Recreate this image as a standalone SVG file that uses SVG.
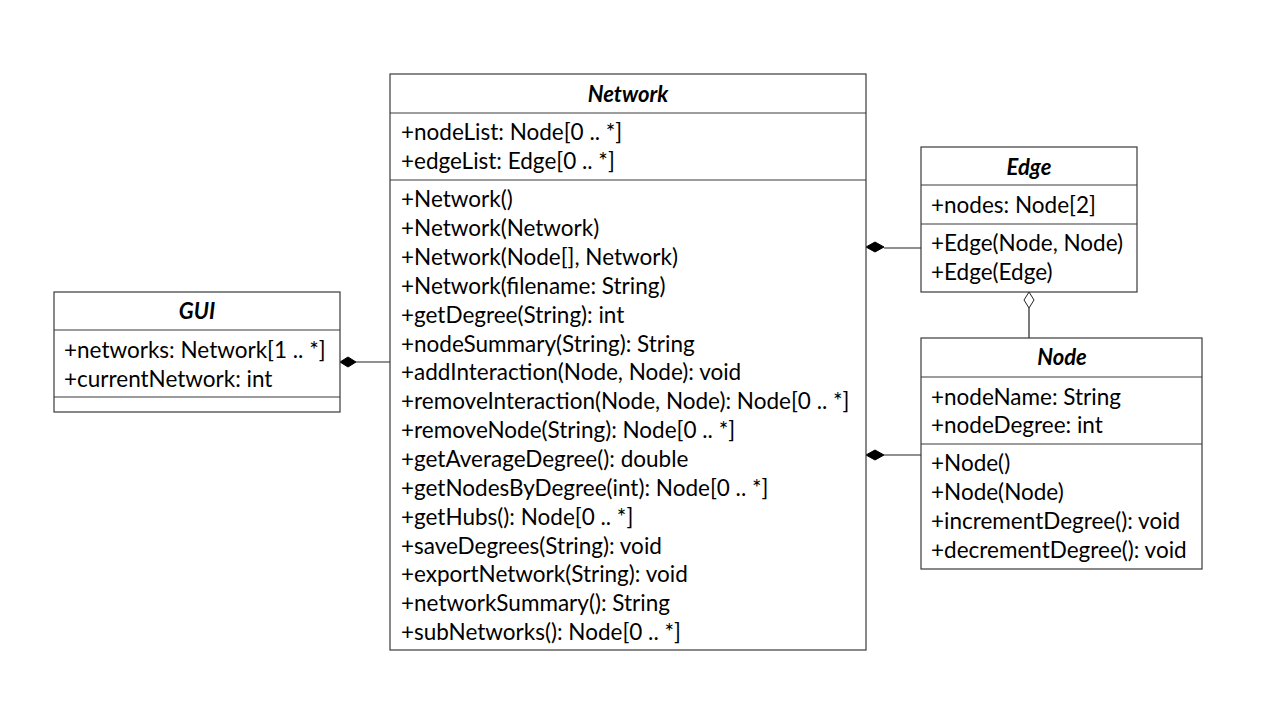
<svg xmlns="http://www.w3.org/2000/svg" width="1280" height="720" viewBox="0 0 1280 720">
  <style>
    .box { fill: #ffffff; stroke: #3a3a3a; stroke-width: 1.2; }
    .div { stroke: #3a3a3a; stroke-width: 1.2; }
    .title { font-family: Lato, "Liberation Sans", sans-serif; font-size: 22px; font-weight: bold; font-style: italic; fill: #000; text-anchor: middle; dominant-baseline: central; }
    .txt { font-family: Lato, "Liberation Sans", sans-serif; font-size: 22.5px; fill: #000; dominant-baseline: central; }
    .link { stroke: #222; stroke-width: 1.2; fill: none; }
    .comp { fill: #000; stroke: #000; stroke-width: 1; }
    .aggr { fill: #fff; stroke: #222; stroke-width: 1; }
  </style>
  <rect width="1280" height="720" fill="#ffffff"/>

  <!-- connectors -->
  <g id="connectors">
    <!-- GUI composes Network -->
    <line class="link" x1="356" y1="362" x2="390" y2="362"/>
    <polygon class="comp" points="340,362 348,357 356,362 348,367"/>
    <!-- Network composes Edge -->
    <line class="link" x1="884" y1="248" x2="921" y2="248"/>
    <polygon class="comp" points="866,247 875,242 884,247 875,252"/>
    <!-- Network composes Node -->
    <line class="link" x1="884" y1="455" x2="921" y2="455"/>
    <polygon class="comp" points="866,455 875,450 884,455 875,460"/>
    <!-- Edge aggregates Node -->
    <line class="link" x1="1029" y1="308" x2="1029" y2="338"/>
    <polygon class="aggr" points="1029,292 1034,300 1029,308 1024,300"/>
  </g>

  <!-- GUI class -->
  <g id="gui">
    <rect class="box" x="54" y="292" width="286" height="120"/>
    <line class="div" x1="54" y1="330" x2="340" y2="330"/>
    <line class="div" x1="54" y1="397" x2="340" y2="397"/>
    <text class="title" x="197" y="310">GUI</text>
    <text class="txt" x="64" y="349">+networks: Network[1 .. *]</text>
    <text class="txt" x="64" y="378">+currentNetwork: int</text>
  </g>

  <!-- Network class -->
  <g id="network">
    <rect class="box" x="390" y="74" width="476" height="576"/>
    <line class="div" x1="390" y1="113" x2="866" y2="113"/>
    <line class="div" x1="390" y1="180" x2="866" y2="180"/>
    <text class="title" x="628" y="93">Network</text>
    <text class="txt" x="401" y="131">+nodeList: Node[0 .. *]</text>
    <text class="txt" x="401" y="160">+edgeList: Edge[0 .. *]</text>
    <text class="txt" x="401" y="198">+Network()</text>
    <text class="txt" x="401" y="227">+Network(Network)</text>
    <text class="txt" x="401" y="256">+Network(Node[], Network)</text>
    <text class="txt" x="401" y="285">+Network(filename: String)</text>
    <text class="txt" x="401" y="314">+getDegree(String):  int</text>
    <text class="txt" x="401" y="343">+nodeSummary(String): String</text>
    <text class="txt" x="401" y="371">+addInteraction(Node, Node): void</text>
    <text class="txt" x="401" y="400">+removeInteraction(Node, Node): Node[0 .. *]</text>
    <text class="txt" x="401" y="429">+removeNode(String): Node[0 .. *]</text>
    <text class="txt" x="401" y="458">+getAverageDegree(): double</text>
    <text class="txt" x="401" y="487">+getNodesByDegree(int): Node[0 .. *]</text>
    <text class="txt" x="401" y="516">+getHubs(): Node[0 .. *]</text>
    <text class="txt" x="401" y="545">+saveDegrees(String): void</text>
    <text class="txt" x="401" y="573">+exportNetwork(String): void</text>
    <text class="txt" x="401" y="602">+networkSummary(): String</text>
    <text class="txt" x="401" y="631">+subNetworks(): Node[0 .. *]</text>
  </g>

  <!-- Edge class -->
  <g id="edge">
    <rect class="box" x="921" y="147" width="216" height="145"/>
    <line class="div" x1="921" y1="185" x2="1137" y2="185"/>
    <line class="div" x1="921" y1="224" x2="1137" y2="224"/>
    <text class="title" x="1029" y="166">Edge</text>
    <text class="txt" x="931" y="204">+nodes: Node[2]</text>
    <text class="txt" x="931" y="242">+Edge(Node, Node)</text>
    <text class="txt" x="931" y="271">+Edge(Edge)</text>
  </g>

  <!-- Node class -->
  <g id="node">
    <rect class="box" x="921" y="338" width="281" height="231"/>
    <line class="div" x1="921" y1="377" x2="1202" y2="377"/>
    <line class="div" x1="921" y1="444" x2="1202" y2="444"/>
    <text class="title" x="1062" y="356">Node</text>
    <text class="txt" x="931" y="396">+nodeName: String</text>
    <text class="txt" x="931" y="424">+nodeDegree: int</text>
    <text class="txt" x="931" y="462">+Node()</text>
    <text class="txt" x="931" y="491">+Node(Node)</text>
    <text class="txt" x="931" y="520">+incrementDegree(): void</text>
    <text class="txt" x="931" y="549">+decrementDegree(): void</text>
  </g>
</svg>
